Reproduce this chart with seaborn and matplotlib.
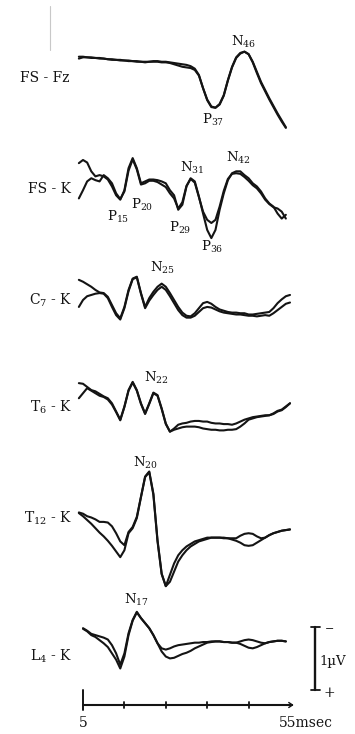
import numpy as np
import pandas as pd
import matplotlib
matplotlib.use("Agg")
import matplotlib.pyplot as plt
import seaborn as sns

nan = np.nan

# ---------------- data (latency in ms, amplitude in µV, negativity up) ----------------
time_ms = list(range(4, 56))

channels = ["FS-Fz", "FS-K", "C7-K", "T6-K", "T12-K", "L4-K"]
channel_labels = ["FS - Fz", "FS - K", "C$_7$ - K", "T$_6$ - K", "T$_{12}$ - K", "L$_4$ - K"]

fs_fz_a = [0, 0, -0.01, -0.01, -0.02, -0.02, -0.03, -0.04, -0.04, -0.05, -0.05, -0.06, -0.06, -0.07,
           -0.07, -0.08, -0.08, -0.08, -0.07, -0.07, -0.08, -0.08, -0.09, -0.10, -0.11, -0.12, -0.13,
           -0.15, -0.19, -0.29, -0.50, -0.69, -0.80, -0.81, -0.75, -0.61, -0.37, -0.16, -0.01, 0.06,
           0.08, 0.04, -0.08, -0.24, -0.40, -0.53, -0.66, -0.78, -0.90, -1.01, -1.12, nan]
fs_fz_b = [-0.03, -0.01, -0.01, -0.02, -0.02, -0.03, -0.03, -0.04, -0.05, -0.05, -0.06, -0.06, -0.07,
           -0.07, -0.08, -0.08, -0.09, -0.08, -0.08, -0.08, -0.09, -0.09, -0.10, -0.12, -0.14, -0.16,
           -0.17, -0.18, -0.21, -0.30, -0.50, -0.68, -0.79, -0.81, -0.76, -0.62, -0.38, -0.17, -0.02,
           0.05, 0.08, 0.04, -0.09, -0.26, -0.42, -0.55, -0.68, -0.80, -0.92, -1.03, -1.13, nan]

fs_k_a = [0.32, 0.37, 0.33, 0.19, 0.11, 0.13, 0.11, 0.06, -0.05, -0.19, -0.26, -0.11, 0.24, 0.40, 0.24,
          0.00, 0.03, 0.06, 0.06, 0.05, 0.03, 0.00, -0.11, -0.19, -0.42, -0.34, -0.05, 0.08, 0.03, -0.21,
          -0.48, -0.74, -0.87, -0.74, -0.42, -0.16, 0.05, 0.16, 0.19, 0.19, 0.13, 0.08, 0.00, -0.05,
          -0.13, -0.24, -0.32, -0.37, -0.48, -0.56, -0.50, nan]
fs_k_b = [-0.24, -0.11, 0.03, 0.08, 0.05, 0.03, 0.13, 0.08, 0.00, -0.16, -0.25, -0.13, 0.20, 0.38, 0.22,
          -0.02, 0.00, 0.04, 0.04, 0.02, -0.02, -0.06, -0.16, -0.24, -0.40, -0.30, -0.04, 0.07, 0.01,
          -0.22, -0.45, -0.58, -0.63, -0.58, -0.37, -0.12, 0.07, 0.15, 0.16, 0.15, 0.10, 0.04, -0.03,
          -0.08, -0.16, -0.26, -0.33, -0.38, -0.40, -0.45, -0.56, nan]

c7_k_a = [0.32, 0.29, 0.25, 0.21, 0.16, 0.12, 0.11, 0.05, -0.08, -0.21, -0.29, -0.11, 0.16, 0.34, 0.37,
          0.11, -0.11, 0.03, 0.13, 0.21, 0.26, 0.21, 0.11, 0.00, -0.11, -0.20, -0.25, -0.26, -0.21,
          -0.13, -0.05, -0.03, -0.06, -0.11, -0.15, -0.17, -0.19, -0.20, -0.20, -0.21, -0.21, -0.23,
          -0.23, -0.22, -0.21, -0.20, -0.19, -0.13, -0.05, 0.01, 0.06, 0.08]
c7_k_b = [-0.11, 0.00, 0.06, 0.08, 0.10, 0.11, 0.10, 0.03, -0.11, -0.24, -0.31, -0.13, 0.14, 0.33, 0.36,
          0.10, -0.13, -0.01, 0.08, 0.16, 0.21, 0.16, 0.06, -0.05, -0.16, -0.24, -0.28, -0.28, -0.25,
          -0.19, -0.13, -0.11, -0.12, -0.15, -0.18, -0.20, -0.21, -0.22, -0.23, -0.23, -0.24, -0.25,
          -0.25, -0.26, -0.25, -0.24, -0.25, -0.21, -0.16, -0.11, -0.06, -0.04]

t6_k_a = [0.32, 0.31, 0.26, 0.21, 0.19, 0.15, 0.11, 0.08, 0.00, -0.13, -0.26, -0.05, 0.21, 0.34, 0.21,
          0.00, -0.16, 0.00, 0.17, 0.13, -0.08, -0.32, -0.45, -0.40, -0.34, -0.32, -0.31, -0.29, -0.28,
          -0.28, -0.29, -0.29, -0.31, -0.32, -0.32, -0.33, -0.33, -0.34, -0.32, -0.29, -0.26, -0.24,
          -0.22, -0.21, -0.20, -0.19, -0.19, -0.17, -0.13, -0.11, -0.06, 0.00]
t6_k_b = [0.08, 0.16, 0.24, 0.20, 0.16, 0.12, 0.10, 0.06, -0.02, -0.14, -0.27, -0.06, 0.20, 0.33, 0.20,
          -0.01, -0.17, -0.01, 0.16, 0.12, -0.09, -0.33, -0.45, -0.42, -0.40, -0.38, -0.37, -0.37, -0.37,
          -0.38, -0.40, -0.41, -0.42, -0.42, -0.43, -0.43, -0.42, -0.42, -0.41, -0.37, -0.32, -0.26,
          -0.24, -0.22, -0.21, -0.20, -0.19, -0.16, -0.12, -0.10, -0.05, 0.00]

t12_k_a = [0.12, 0.10, 0.06, 0.04, 0.01, -0.03, -0.03, -0.04, -0.10, -0.21, -0.34, -0.40, -0.19, -0.11,
           0.05, 0.37, 0.69, 0.77, 0.42, -0.32, -0.85, -1.05, -0.98, -0.82, -0.66, -0.56, -0.48, -0.42,
           -0.38, -0.34, -0.32, -0.30, -0.28, -0.28, -0.28, -0.28, -0.29, -0.31, -0.33, -0.36, -0.40,
           -0.41, -0.40, -0.36, -0.32, -0.28, -0.24, -0.21, -0.19, -0.17, -0.16, -0.15]
t12_k_b = [0.11, 0.06, 0.00, -0.06, -0.13, -0.20, -0.26, -0.33, -0.41, -0.50, -0.59, -0.48, -0.21, -0.13,
           0.03, 0.36, 0.68, 0.76, 0.40, -0.34, -0.86, -1.05, -0.87, -0.69, -0.56, -0.48, -0.42, -0.38,
           -0.34, -0.32, -0.30, -0.28, -0.28, -0.28, -0.28, -0.29, -0.29, -0.29, -0.29, -0.25, -0.22,
           -0.21, -0.22, -0.26, -0.29, -0.28, -0.24, -0.21, -0.19, -0.17, -0.16, -0.15]

l4_k_a = [nan, 0.24, 0.20, 0.15, 0.13, 0.11, 0.09, 0.06, -0.03, -0.16, -0.34, -0.16, 0.16, 0.37, 0.50,
          0.40, 0.32, 0.24, 0.13, 0.00, -0.13, -0.21, -0.24, -0.23, -0.20, -0.17, -0.15, -0.12, -0.08,
          -0.05, -0.02, 0.01, 0.02, 0.03, 0.03, 0.02, 0.02, 0.01, 0.01, -0.01, -0.04, -0.07, -0.08,
          -0.06, -0.03, 0.00, 0.02, 0.03, 0.04, 0.04, 0.03, nan]
l4_k_b = [nan, 0.23, 0.19, 0.13, 0.10, 0.05, 0.00, -0.06, -0.16, -0.26, -0.40, -0.21, 0.13, 0.36, 0.49,
          0.40, 0.32, 0.24, 0.13, 0.00, -0.08, -0.10, -0.08, -0.05, -0.03, -0.02, -0.01, 0.00, 0.01,
          0.01, 0.02, 0.02, 0.03, 0.03, 0.03, 0.02, 0.02, 0.01, 0.01, 0.03, 0.05, 0.06, 0.05, 0.03,
          0.01, 0.00, 0.02, 0.03, 0.04, 0.04, 0.03, nan]

traces_a = [fs_fz_a, fs_k_a, c7_k_a, t6_k_a, t12_k_a, l4_k_a]
traces_b = [fs_fz_b, fs_k_b, c7_k_b, t6_k_b, t12_k_b, l4_k_b]

# peak labels: (channel index, name, subscript, latency of the marked point)
peaks = [(0, "N", "46", 44), (0, "P", "37", 37),
         (1, "P", "15", 14), (1, "P", "20", 19), (1, "N", "31", 31), (1, "P", "29", 28),
         (1, "P", "36", 36), (1, "N", "42", 42),
         (2, "N", "25", 24), (3, "N", "22", 22), (4, "N", "20", 21), (5, "N", "17", 18)]

axis_ticks = [5, 15, 25, 35, 45, 55]
scale_uv = 1.0

# ---------------- layout helpers (pixel geometry of the page) ----------------
W, H = 355, 734
PX_MS, PX_UV = 4.14, 63.0

def tx(xpx):
    return 5 + (xpx - 83) / PX_MS

def uy(ypx):
    return (H - ypx) / PX_UV

baseline_px = [56.7, 183.3, 300, 403.3, 520, 643.3]
label_px = [(70, 78), (71, 189), (72, 300), (72, 407), (72, 518), (72, 656)]
# offsets (px) of each peak label from its marked point
peak_off = [(-1, 10), (-2, -12), (-2, -17), (1, -22), (1, 10), (2, -18), (1, -9), (2, 13),
            (1, 16), (3, 15), (-4, 9), (0, 12)]

for arr in traces_a + traces_b:
    assert len(arr) == len(time_ms)

# ---------------- figure ----------------
sns.set_theme(style="white")
plt.rcParams["font.family"] = ["DejaVu Serif"]
plt.rcParams["mathtext.fontset"] = "dejavuserif"

fig = plt.figure(figsize=(W / 100, H / 100), dpi=100)
ax = fig.add_axes([0, 0, 1, 1])
ax.set_xlim(tx(0), tx(W))
ax.set_ylim(uy(H), uy(0))
ax.set_axis_off()

ink = "#141414"
rows = []
for i, name in enumerate(channels):
    base = uy(baseline_px[i])
    for rep, vals in (("a", traces_a[i]), ("b", traces_b[i])):
        for t, v in zip(time_ms, vals):
            rows.append({"t": t, "y": base + v, "trace": f"{name}-{rep}"})
df = pd.DataFrame(rows)
sns.lineplot(data=df, x="t", y="y", units="trace", estimator=None, color=ink,
             lw=1.5, ax=ax, legend=False, sort=False)
ax.set_axis_off()

# channel labels
for i, lab in enumerate(channel_labels):
    x, y = label_px[i]
    ax.text(tx(x), uy(y), lab, ha="right", va="center", fontsize=10, color=ink)

# peak labels
for (ci, letter, sub, lat), (dx, dy) in zip(peaks, peak_off):
    v = traces_a[ci][time_ms.index(lat)]
    ax.annotate(f"{letter}$_{{{sub}}}$", xy=(lat, uy(baseline_px[ci]) + v),
                xytext=(dx, dy), textcoords="offset pixels", ha="center", va="center",
                fontsize=9.5, color=ink)

# time axis
ax_y = uy(705)
ax.plot([axis_ticks[0], axis_ticks[-1] + 0.6], [ax_y, ax_y], color=ink, lw=1.5)
for k, tk in enumerate(axis_ticks):
    if k == 0:
        ax.plot([tk, tk], [uy(690), uy(710)], color=ink, lw=1.4)
    elif k < len(axis_ticks) - 1:
        ax.plot([tk, tk], [uy(702), uy(708)], color=ink, lw=1.3)
ax.plot([axis_ticks[-1] + 0.6, axis_ticks[-1] - 0.3], [ax_y, ax_y + 0.04], color=ink, lw=1.0)
ax.plot([axis_ticks[-1] + 0.6, axis_ticks[-1] - 0.3], [ax_y, ax_y - 0.04], color=ink, lw=1.0)
ax.text(axis_ticks[0], uy(723), f"{axis_ticks[0]}", ha="center", va="center", fontsize=10, color=ink)
ax.text(tx(279), uy(723), f"{axis_ticks[-1]}msec", ha="left", va="center", fontsize=10, color=ink)

# amplitude scale bar (negative up)
sx = tx(315)
y_lo = uy(690)
ax.plot([sx, sx], [y_lo, y_lo + scale_uv], color=ink, lw=1.7)
ax.plot([tx(311), tx(320)], [y_lo + scale_uv, y_lo + scale_uv], color=ink, lw=1.3)
ax.plot([tx(311), tx(320)], [y_lo, y_lo], color=ink, lw=1.3)
ax.text(tx(330), uy(629), "\u2212", ha="center", va="center", fontsize=8, color=ink)
ax.text(tx(329), uy(693), "+", ha="center", va="center", fontsize=10, color=ink)
ax.text(tx(319), uy(662), "1\u00b5V", ha="left", va="center", fontsize=9.5, color=ink)

# faint scan mark at top left
ax.plot([tx(50), tx(50)], [uy(6), uy(50)], color="#c8c8c8", lw=0.8)

fig.savefig("out.png", dpi=100, facecolor="white")
